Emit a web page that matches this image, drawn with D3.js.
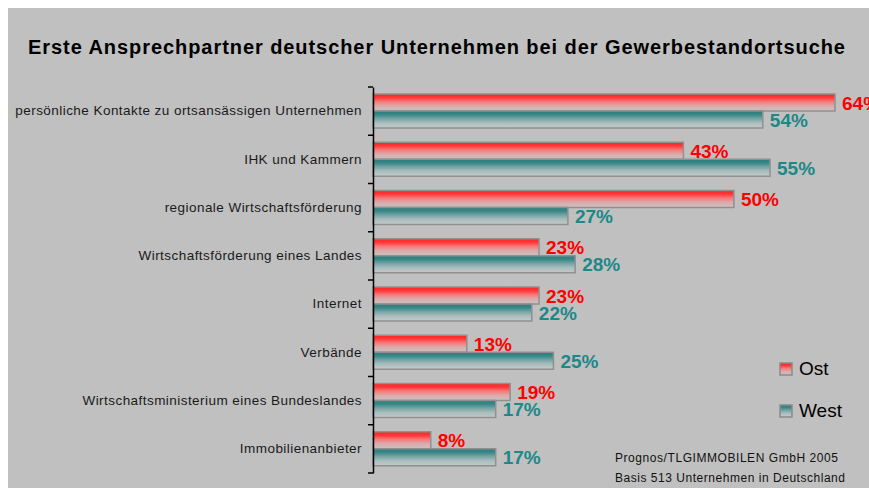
<!DOCTYPE html>
<html><head><meta charset="utf-8">
<script src="https://cdn.jsdelivr.net/npm/d3@7"></script>
<style>html,body{margin:0;padding:0;background:#fff;}svg{display:block;}</style>
</head><body>
<svg id="chart" width="869" height="488"></svg>
<script>
const title = "Erste Ansprechpartner deutscher Unternehmen bei der Gewerbestandortsuche";
const categories = ["persönliche Kontakte zu ortsansässigen Unternehmen","IHK und Kammern","regionale Wirtschaftsförderung","Wirtschaftsförderung eines Landes","Internet","Verbände","Wirtschaftsministerium eines Bundeslandes","Immobilienanbieter"];
const seriesNames = ["Ost","West"];
const ost = [64,43,50,23,23,13,19,8];
const west = [54,55,27,28,22,25,17,17];
const sourceLines = ["Prognos/TLGIMMOBILEN GmbH 2005","Basis 513 Unternehmen in Deutschland"];

const svg = d3.select("#chart");
const W = 869, H = 488;
const FONT = "Liberation Sans, Arial, Helvetica, sans-serif";

svg.append("rect").attr("x",8).attr("y",8).attr("width",W-8).attr("height",H-8).attr("fill","#c0c0c0");

const defs = svg.append("defs");
function grad(id, stops){
  const g = defs.append("linearGradient").attr("id",id).attr("x1",0).attr("y1",0).attr("x2",0).attr("y2",1);
  stops.forEach(s=>g.append("stop").attr("offset",s[0]).attr("stop-color",s[1]));
}
grad("gOst",[["0%","#ff2020"],["22%","#ff3a3a"],["45%","#f57a7a"],["70%","#dcaaaa"],["100%","#cac2c2"]]);
grad("gWest",[["0%","#2b7d7d"],["22%","#3a8888"],["45%","#76a4a4"],["70%","#a9bdbd"],["100%","#c6c9c9"]]);
const colors = {Ost:"url(#gOst)", West:"url(#gWest)"};
const labelColors = {Ost:"#ff0000", West:"#1e8888"};

const data = categories.map((c,i)=>({cat:c, Ost:ost[i], West:west[i]}));

const x0 = 373;
const x = d3.scaleLinear().domain([0,64]).range([x0,835]);
const y = d3.scaleBand().domain(categories).range([87,473]).padding(0);
const ys = d3.scaleBand().domain(seriesNames).range([7,41]).padding(0);

// title
svg.append("text").attr("x",28).attr("y",54)
  .attr("font-family",FONT).attr("font-weight","bold").attr("font-size",20)
  .attr("textLength",817).attr("lengthAdjust","spacing")
  .attr("fill","#000").text(title);

// bars
const groups = svg.append("g").selectAll("g").data(data).join("g")
  .attr("transform",d=>`translate(0,${y(d.cat)})`);
seriesNames.forEach(s=>{
  groups.append("rect")
    .attr("x",x(0)).attr("y",ys(s)).attr("width",d=>x(d[s])-x(0)).attr("height",ys.bandwidth())
    .attr("fill",colors[s]).attr("stroke","#909090").attr("stroke-width",1.5);
  groups.append("text")
    .attr("x",d=>x(d[s])+7).attr("y",ys(s)+ys.bandwidth()/2+7)
    .attr("font-family",FONT).attr("font-weight","bold").attr("font-size",19)
    .attr("fill",labelColors[s]).text(d=>d[s]+"%");
});

// axis
const axis = svg.append("g").attr("transform",`translate(${x0},0)`)
  .call(d3.axisLeft(y).tickSize(0).tickPadding(11));
axis.select(".domain").attr("stroke","#000").attr("stroke-width",1.5);
axis.selectAll(".tick text").attr("font-family",FONT).attr("font-size",13.5)
  .attr("letter-spacing","0.45px").attr("fill","#1a1a1a");
const bounds = categories.map(c=>y(c)).concat([y.range()[1]]);
axis.selectAll("line.bt").data(bounds).join("line").attr("class","bt")
  .attr("x1",-5).attr("x2",0).attr("y1",d=>d).attr("y2",d=>d)
  .attr("stroke","#000").attr("stroke-width",1.5);

// legend
const leg = svg.append("g");
seriesNames.forEach((s,i)=>{
  const ly = 363 + i*42;
  leg.append("rect").attr("x",780).attr("y",ly).attr("width",12).attr("height",12)
    .attr("fill",colors[s]).attr("stroke","#8a8a8a").attr("stroke-width",1.5);
  leg.append("text").attr("x",799).attr("y",ly+12).attr("font-family",FONT)
    .attr("font-size",19).attr("fill","#000").text(s);
});

// source
const srcLen = [223,230];
sourceLines.forEach((t,i)=>{
  svg.append("text").attr("x",615).attr("y",462+i*20).attr("font-family",FONT)
    .attr("font-size",12).attr("textLength",srcLen[i]).attr("lengthAdjust","spacing")
    .attr("fill","#111").text(t);
});
</script>
</body></html>
